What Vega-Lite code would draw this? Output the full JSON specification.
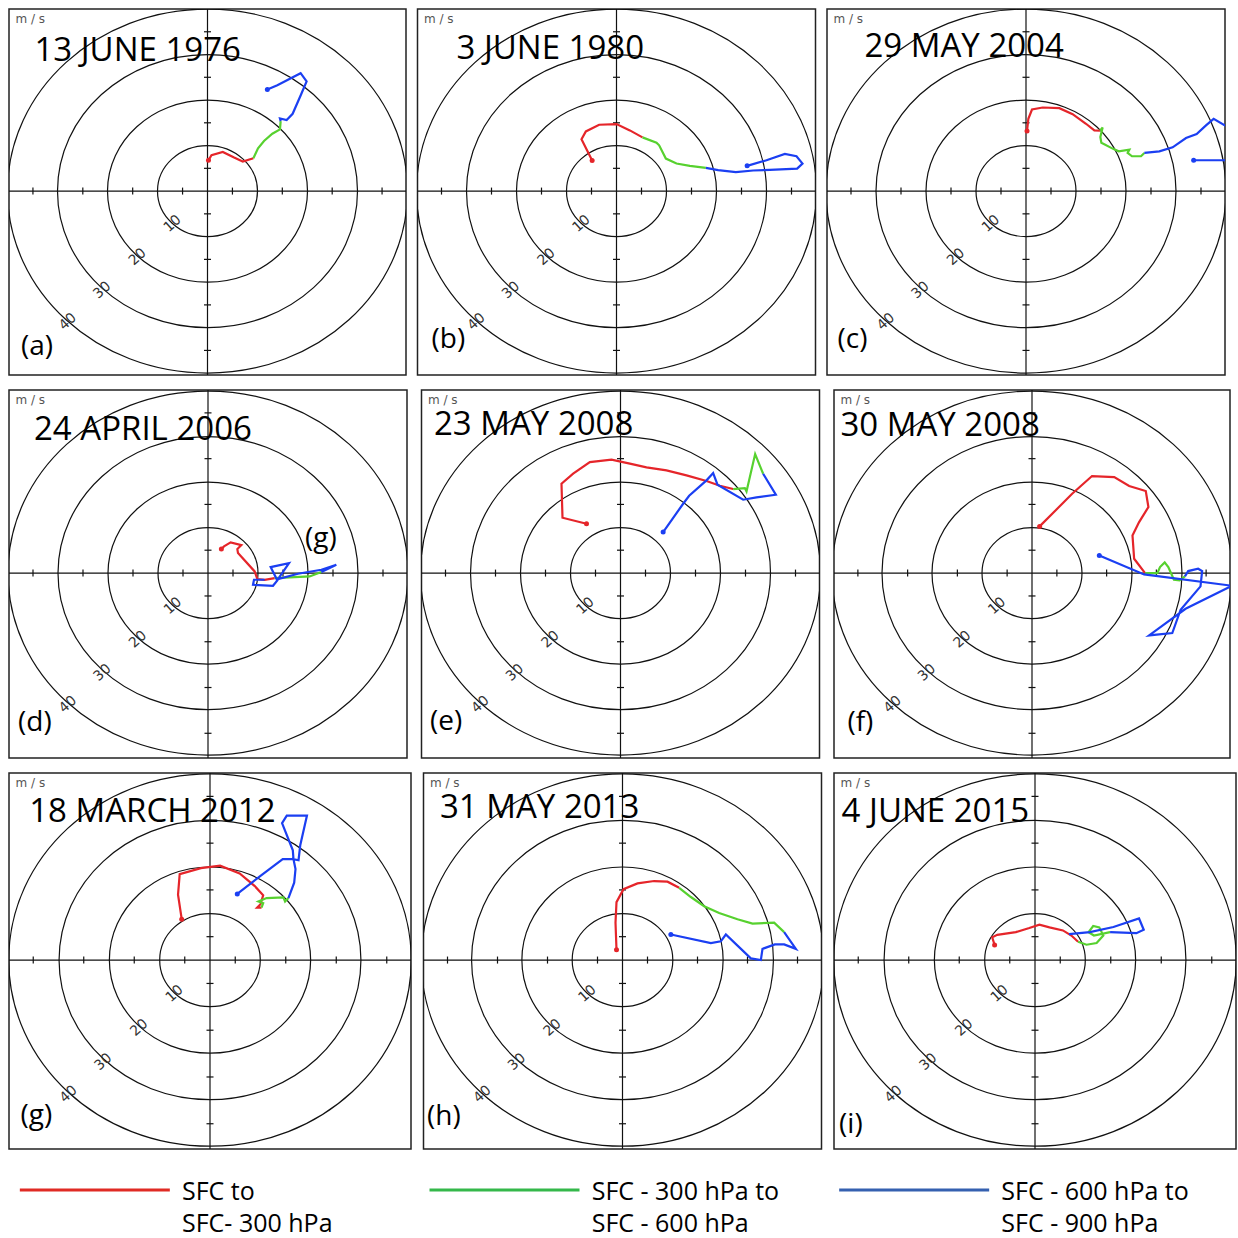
{
"$schema": "https://vega.github.io/schema/vega-lite/v6.json",
"padding": {"left": 8, "top": 8, "right": 0, "bottom": 0},
"background": "white",
"config": {"view": {"stroke": "#222", "strokeWidth": 1.5}},
"datasets": {
"axes": [{"u": -45, "u2": 45, "v": 0, "v2": 0}, {"u": 0, "u2": 0, "v": -45, "v2": 45}],
"rings": [{"u": 0, "v": 0, "r": 10}, {"u": 0, "v": 0, "r": 20}, {"u": 0, "v": 0, "r": 30}, {"u": 0, "v": 0, "r": 40}],
"xticks": [{"u": -35, "v": 0}, {"u": -25, "v": 0}, {"u": -15, "v": 0}, {"u": -5, "v": 0}, {"u": 5, "v": 0}, {"u": 15, "v": 0}, {"u": 25, "v": 0}, {"u": 35, "v": 0}],
"yticks": [{"v": -35, "u": 0}, {"v": -25, "u": 0}, {"v": -15, "u": 0}, {"v": -5, "u": 0}, {"v": 5, "u": 0}, {"v": 15, "u": 0}, {"v": 25, "u": 0}, {"v": 35, "u": 0}],
"ringlabels": [{"u": -7.0, "v": -7.2, "t": "10"}, {"u": -14.0, "v": -14.5, "t": "20"}, {"u": -21.1, "v": -21.8, "t": "30"}, {"u": -28.0, "v": -28.7, "t": "40"}],
"ms": [{"u": -38.5, "v": 37.0, "t": "m / s"}],
"labels": [
{"p": "a", "k": "t", "t": "13 JUNE 1976", "u": -34.7, "v": 28.5},
{"p": "a", "k": "l", "t": "(a)", "u": -37.4, "v": -36.0},
{"p": "b", "k": "t", "t": "3 JUNE 1980", "u": -32.0, "v": 29.0},
{"p": "b", "k": "l", "t": "(b)", "u": -37.0, "v": -34.5},
{"p": "c", "k": "t", "t": "29 MAY 2004", "u": -32.3, "v": 29.4},
{"p": "c", "k": "l", "t": "(c)", "u": -37.7, "v": -34.4},
{"p": "d", "k": "t", "t": "24 APRIL 2006", "u": -34.8, "v": 29.0},
{"p": "d", "k": "l", "t": "(d)", "u": -38.0, "v": -34.6},
{"p": "d", "k": "n", "t": "(g)", "u": 19.4, "v": 5.8},
{"p": "e", "k": "t", "t": "23 MAY 2008", "u": -37.3, "v": 30.2},
{"p": "e", "k": "l", "t": "(e)", "u": -38.1, "v": -34.2},
{"p": "f", "k": "t", "t": "30 MAY 2008", "u": -38.5, "v": 29.9},
{"p": "f", "k": "l", "t": "(f)", "u": -37.1, "v": -34.4},
{"p": "g", "k": "t", "t": "18 MARCH 2012", "u": -35.8, "v": 29.5},
{"p": "g", "k": "l", "t": "(g)", "u": -37.5, "v": -35.0},
{"p": "h", "k": "t", "t": "31 MAY 2013", "u": -36.5, "v": 30.4},
{"p": "h", "k": "l", "t": "(h)", "u": -39.1, "v": -35.3},
{"p": "i", "k": "t", "t": "4 JUNE 2015", "u": -38.3, "v": 29.6},
{"p": "i", "k": "l", "t": "(i)", "u": -38.8, "v": -37.0}
],
"tracks": [
{"p":"a","s":"r","i":0,"u":0.2,"v":6.78},{"p":"a","s":"r","i":1,"u":0.8,"v":7.87},{"p":"a","s":"r","i":2,"u":3.07,"v":8.6},{"p":"a","s":"r","i":3,"u":5.33,"v":7.36},{"p":"a","s":"r","i":4,"u":7.07,"v":6.48},{"p":"a","s":"r","i":5,"u":9.2,"v":7.21},
{"p":"a","s":"g","i":0,"u":9.2,"v":7.21},{"p":"a","s":"g","i":1,"u":10.13,"v":9.4},{"p":"a","s":"g","i":2,"u":11.33,"v":11.0},{"p":"a","s":"g","i":3,"u":13.0,"v":12.6},{"p":"a","s":"g","i":4,"u":14.53,"v":13.55},{"p":"a","s":"g","i":5,"u":14.67,"v":15.37},
{"p":"a","s":"b","i":0,"u":14.67,"v":15.37},{"p":"a","s":"b","i":1,"u":14.53,"v":15.96},{"p":"a","s":"b","i":2,"u":15.87,"v":15.59},{"p":"a","s":"b","i":3,"u":17.07,"v":16.98},{"p":"a","s":"b","i":4,"u":18.67,"v":21.0},{"p":"a","s":"b","i":5,"u":19.87,"v":24.1},{"p":"a","s":"b","i":6,"u":18.67,"v":25.9},{"p":"a","s":"b","i":7,"u":14.0,"v":23.24},{"p":"a","s":"b","i":8,"u":12.0,"v":22.3},
{"p":"b","s":"r","i":0,"u":-4.87,"v":6.7},{"p":"b","s":"r","i":1,"u":-7.0,"v":11.37},{"p":"b","s":"r","i":2,"u":-6.13,"v":13.11},{"p":"b","s":"r","i":3,"u":-3.47,"v":14.57},{"p":"b","s":"r","i":4,"u":0,"v":14.72},{"p":"b","s":"r","i":5,"u":2.67,"v":13.33},{"p":"b","s":"r","i":6,"u":5.2,"v":11.8},
{"p":"b","s":"g","i":0,"u":5.2,"v":11.8},{"p":"b","s":"g","i":1,"u":8.0,"v":10.64},{"p":"b","s":"g","i":2,"u":8.53,"v":10.05},{"p":"b","s":"g","i":3,"u":9.87,"v":7.14},{"p":"b","s":"g","i":4,"u":12.0,"v":6.05},{"p":"b","s":"g","i":5,"u":14.67,"v":5.54},{"p":"b","s":"g","i":6,"u":17.87,"v":5.1},
{"p":"b","s":"b","i":0,"u":17.87,"v":5.1},{"p":"b","s":"b","i":1,"u":20.33,"v":4.59},{"p":"b","s":"b","i":2,"u":23.87,"v":4.15},{"p":"b","s":"b","i":3,"u":27.33,"v":4.52},{"p":"b","s":"b","i":4,"u":30.67,"v":4.66},{"p":"b","s":"b","i":5,"u":36.13,"v":4.95},{"p":"b","s":"b","i":6,"u":37.2,"v":6.05},{"p":"b","s":"b","i":7,"u":36.0,"v":7.65},{"p":"b","s":"b","i":8,"u":33.67,"v":8.16},{"p":"b","s":"b","i":9,"u":30.0,"v":6.78},{"p":"b","s":"b","i":10,"u":26.13,"v":5.54},
{"p":"c","s":"r","i":0,"u":0.2,"v":13.19},{"p":"c","s":"r","i":1,"u":0.47,"v":15.88},{"p":"c","s":"r","i":2,"u":1.2,"v":17.92},{"p":"c","s":"r","i":3,"u":3.33,"v":18.36},{"p":"c","s":"r","i":4,"u":6.67,"v":18.21},{"p":"c","s":"r","i":5,"u":9.33,"v":16.9},{"p":"c","s":"r","i":6,"u":12.0,"v":14.79},{"p":"c","s":"r","i":7,"u":13.67,"v":13.33},{"p":"c","s":"r","i":8,"u":14.8,"v":13.26},
{"p":"c","s":"g","i":0,"u":14.8,"v":13.26},{"p":"c","s":"g","i":1,"u":15.33,"v":13.99},{"p":"c","s":"g","i":2,"u":14.87,"v":11.88},{"p":"c","s":"g","i":3,"u":15.07,"v":10.64},{"p":"c","s":"g","i":4,"u":17.33,"v":9.33},{"p":"c","s":"g","i":5,"u":18.53,"v":8.74},{"p":"c","s":"g","i":6,"u":20.67,"v":9.11},{"p":"c","s":"g","i":7,"u":20.33,"v":8.38},{"p":"c","s":"g","i":8,"u":21.2,"v":7.65},{"p":"c","s":"g","i":9,"u":23.0,"v":7.65},{"p":"c","s":"g","i":10,"u":23.67,"v":8.38},
{"p":"c","s":"b","i":0,"u":23.67,"v":8.38},{"p":"c","s":"b","i":1,"u":26.67,"v":8.74},{"p":"c","s":"b","i":2,"u":29.33,"v":9.62},{"p":"c","s":"b","i":3,"u":32.0,"v":11.66},{"p":"c","s":"b","i":4,"u":34.13,"v":12.53},{"p":"c","s":"b","i":5,"u":36.0,"v":14.43},{"p":"c","s":"b","i":6,"u":37.53,"v":15.88},{"p":"c","s":"b","i":7,"u":40.0,"v":14.28},{"p":"c","s":"b","i":8,"u":43.33,"v":10.78},{"p":"c","s":"b","i":9,"u":43.33,"v":6.78},{"p":"c","s":"b","i":10,"u":33.53,"v":6.78},
{"p":"d","s":"r","i":0,"u":2.67,"v":5.25},{"p":"d","s":"r","i":1,"u":3.2,"v":5.83},{"p":"d","s":"r","i":2,"u":4.53,"v":6.7},{"p":"d","s":"r","i":3,"u":6.67,"v":6.12},{"p":"d","s":"r","i":4,"u":5.87,"v":5.25},{"p":"d","s":"r","i":5,"u":6.0,"v":4.37},{"p":"d","s":"r","i":6,"u":9.33,"v":0.36},{"p":"d","s":"r","i":7,"u":9.87,"v":-1.31},{"p":"d","s":"r","i":8,"u":11.33,"v":-1.46},{"p":"d","s":"r","i":9,"u":13.33,"v":-1.09},
{"p":"d","s":"g","i":0,"u":13.33,"v":-1.09},{"p":"d","s":"g","i":1,"u":17.33,"v":-0.87},{"p":"d","s":"g","i":2,"u":20.33,"v":-0.73},{"p":"d","s":"g","i":3,"u":22.67,"v":0.22},
{"p":"d","s":"b","i":0,"u":22.67,"v":0.22},{"p":"d","s":"b","i":1,"u":25.67,"v":1.82},{"p":"d","s":"b","i":2,"u":22.67,"v":0.73},{"p":"d","s":"b","i":3,"u":18.0,"v":-0.15},{"p":"d","s":"b","i":4,"u":14.0,"v":-1.31},{"p":"d","s":"b","i":5,"u":16.2,"v":2.19},{"p":"d","s":"b","i":6,"u":12.53,"v":1.31},{"p":"d","s":"b","i":7,"u":13.87,"v":-1.6},{"p":"d","s":"b","i":8,"u":13.0,"v":-2.77},{"p":"d","s":"b","i":9,"u":9.0,"v":-2.55},{"p":"d","s":"b","i":10,"u":9.2,"v":-1.46},{"p":"d","s":"b","i":11,"u":11.33,"v":-1.46},
{"p":"e","s":"r","i":0,"u":-6.8,"v":10.78},{"p":"e","s":"r","i":1,"u":-11.6,"v":12.09},{"p":"e","s":"r","i":2,"u":-11.8,"v":19.53},{"p":"e","s":"r","i":3,"u":-9.47,"v":21.71},{"p":"e","s":"r","i":4,"u":-6.13,"v":24.26},{"p":"e","s":"r","i":5,"u":-1.8,"v":24.77},{"p":"e","s":"r","i":6,"u":1.87,"v":23.9},{"p":"e","s":"r","i":7,"u":5.2,"v":23.1},{"p":"e","s":"r","i":8,"u":9.2,"v":22.44},{"p":"e","s":"r","i":9,"u":13.2,"v":21.35},{"p":"e","s":"r","i":10,"u":17.2,"v":20.11},{"p":"e","s":"r","i":11,"u":19.87,"v":19.09},{"p":"e","s":"r","i":12,"u":22.53,"v":18.36},
{"p":"e","s":"g","i":0,"u":22.53,"v":18.36},{"p":"e","s":"g","i":1,"u":24.87,"v":18.58},{"p":"e","s":"g","i":2,"u":25.2,"v":17.85},{"p":"e","s":"g","i":3,"u":26.93,"v":26.01},{"p":"e","s":"g","i":4,"u":28.53,"v":21.71},
{"p":"e","s":"b","i":0,"u":28.53,"v":21.71},{"p":"e","s":"b","i":1,"u":31.07,"v":17.12},{"p":"e","s":"b","i":2,"u":27.2,"v":16.54},{"p":"e","s":"b","i":3,"u":24.53,"v":16.03},{"p":"e","s":"b","i":4,"u":19.4,"v":19.31},{"p":"e","s":"b","i":5,"u":18.53,"v":21.86},{"p":"e","s":"b","i":6,"u":17.2,"v":20.26},{"p":"e","s":"b","i":7,"u":13.73,"v":16.9},{"p":"e","s":"b","i":8,"u":12.53,"v":15.15},{"p":"e","s":"b","i":9,"u":8.53,"v":8.96},
{"p":"f","s":"r","i":0,"u":1.53,"v":10.2},{"p":"f","s":"r","i":1,"u":4.87,"v":13.84},{"p":"f","s":"r","i":2,"u":8.07,"v":17.34},{"p":"f","s":"r","i":3,"u":12.07,"v":21.2},{"p":"f","s":"r","i":4,"u":16.53,"v":20.98},{"p":"f","s":"r","i":5,"u":19.53,"v":19.02},{"p":"f","s":"r","i":6,"u":22.87,"v":17.92},{"p":"f","s":"r","i":7,"u":23.4,"v":14.43},{"p":"f","s":"r","i":8,"u":21.53,"v":11.15},{"p":"f","s":"r","i":9,"u":20.2,"v":8.23},{"p":"f","s":"r","i":10,"u":20.53,"v":3.13},{"p":"f","s":"r","i":11,"u":22.73,"v":0.0},
{"p":"f","s":"g","i":0,"u":22.73,"v":0.0},{"p":"f","s":"g","i":1,"u":25.2,"v":0.0},{"p":"f","s":"g","i":2,"u":25.73,"v":1.31},{"p":"f","s":"g","i":3,"u":26.67,"v":2.33},{"p":"f","s":"g","i":4,"u":27.4,"v":1.31},{"p":"f","s":"g","i":5,"u":28.53,"v":-1.46},{"p":"f","s":"g","i":6,"u":29.67,"v":-1.6},{"p":"f","s":"g","i":7,"u":30.73,"v":-0.73},
{"p":"f","s":"b","i":0,"u":30.73,"v":-0.73},{"p":"f","s":"b","i":1,"u":31.4,"v":0.44},{"p":"f","s":"b","i":2,"u":33.4,"v":0.95},{"p":"f","s":"b","i":3,"u":34.2,"v":0.44},{"p":"f","s":"b","i":4,"u":33.87,"v":-2.91},{"p":"f","s":"b","i":5,"u":29.87,"v":-8.01},{"p":"f","s":"b","i":6,"u":28.2,"v":-13.11},{"p":"f","s":"b","i":7,"u":23.53,"v":-13.62},{"p":"f","s":"b","i":8,"u":30.87,"v":-7.79},{"p":"f","s":"b","i":9,"u":40.2,"v":-2.77},{"p":"f","s":"b","i":10,"u":22.53,"v":-0.29},{"p":"f","s":"b","i":11,"u":13.53,"v":3.86},
{"p":"g","s":"r","i":0,"u":-5.6,"v":8.74},{"p":"g","s":"r","i":1,"u":-6.33,"v":13.99},{"p":"g","s":"r","i":2,"u":-6.0,"v":18.36},{"p":"g","s":"r","i":3,"u":-1.8,"v":19.67},{"p":"g","s":"r","i":4,"u":2.0,"v":20.18},{"p":"g","s":"r","i":5,"u":5.87,"v":18.51},{"p":"g","s":"r","i":6,"u":8.87,"v":15.81},{"p":"g","s":"r","i":7,"u":10.53,"v":13.84},{"p":"g","s":"r","i":8,"u":10.0,"v":11.95},{"p":"g","s":"r","i":9,"u":9.33,"v":11.22},{"p":"g","s":"r","i":10,"u":10.2,"v":11.22},
{"p":"g","s":"g","i":0,"u":10.2,"v":11.22},{"p":"g","s":"g","i":1,"u":10.53,"v":12.17},{"p":"g","s":"g","i":2,"u":9.6,"v":12.53},{"p":"g","s":"g","i":3,"u":11.2,"v":13.26},{"p":"g","s":"g","i":4,"u":14.53,"v":13.41},{"p":"g","s":"g","i":5,"u":14.87,"v":12.53},{"p":"g","s":"g","i":6,"u":15.53,"v":13.26},
{"p":"g","s":"b","i":0,"u":15.53,"v":13.26},{"p":"g","s":"b","i":1,"u":16.67,"v":16.54},{"p":"g","s":"b","i":2,"u":16.93,"v":19.45},{"p":"g","s":"b","i":3,"u":16.53,"v":21.57},{"p":"g","s":"b","i":4,"u":17.53,"v":21.35},{"p":"g","s":"b","i":5,"u":17.87,"v":24.55},{"p":"g","s":"b","i":6,"u":19.2,"v":30.89},{"p":"g","s":"b","i":7,"u":15.2,"v":30.89},{"p":"g","s":"b","i":8,"u":14.27,"v":29.29},{"p":"g","s":"b","i":9,"u":16.4,"v":23.46},{"p":"g","s":"b","i":10,"u":16.53,"v":21.57},{"p":"g","s":"b","i":11,"u":14.4,"v":21.57},{"p":"g","s":"b","i":12,"u":9.87,"v":17.92},{"p":"g","s":"b","i":13,"u":5.4,"v":14.13},
{"p":"h","s":"r","i":0,"u":-1.2,"v":2.19},{"p":"h","s":"r","i":1,"u":-1.4,"v":8.01},{"p":"h","s":"r","i":2,"u":-1.2,"v":12.39},{"p":"h","s":"r","i":3,"u":0.2,"v":15.15},{"p":"h","s":"r","i":4,"u":3.0,"v":16.39},{"p":"h","s":"r","i":5,"u":6.33,"v":16.9},{"p":"h","s":"r","i":6,"u":9.0,"v":16.76},{"p":"h","s":"r","i":7,"u":11.33,"v":15.45},
{"p":"h","s":"g","i":0,"u":11.33,"v":15.45},{"p":"h","s":"g","i":1,"u":13.67,"v":13.48},{"p":"h","s":"g","i":2,"u":16.33,"v":11.51},{"p":"h","s":"g","i":3,"u":19.33,"v":10.05},{"p":"h","s":"g","i":4,"u":23.0,"v":8.74},{"p":"h","s":"g","i":5,"u":26.0,"v":7.8},{"p":"h","s":"g","i":6,"u":30.33,"v":8.01},{"p":"h","s":"g","i":7,"u":32.33,"v":5.97},
{"p":"h","s":"b","i":0,"u":32.33,"v":5.97},{"p":"h","s":"b","i":1,"u":34.67,"v":2.4},{"p":"h","s":"b","i":2,"u":32.33,"v":3.35},{"p":"h","s":"b","i":3,"u":30.47,"v":3.35},{"p":"h","s":"b","i":4,"u":28.0,"v":2.4},{"p":"h","s":"b","i":5,"u":27.67,"v":0.0},{"p":"h","s":"b","i":6,"u":25.67,"v":0.36},{"p":"h","s":"b","i":7,"u":20.67,"v":5.46},{"p":"h","s":"b","i":8,"u":19.67,"v":4.01},{"p":"h","s":"b","i":9,"u":17.67,"v":3.64},{"p":"h","s":"b","i":10,"u":9.67,"v":5.46},
{"p":"i","s":"r","i":0,"u":-8.0,"v":3.21},{"p":"i","s":"r","i":1,"u":-8.47,"v":4.88},{"p":"i","s":"r","i":2,"u":-7.47,"v":5.39},{"p":"i","s":"r","i":3,"u":-3.8,"v":5.97},{"p":"i","s":"r","i":4,"u":-1.13,"v":6.85},{"p":"i","s":"r","i":5,"u":0.87,"v":7.58},{"p":"i","s":"r","i":6,"u":2.87,"v":6.99},{"p":"i","s":"r","i":7,"u":5.53,"v":6.34},{"p":"i","s":"r","i":8,"u":7.2,"v":5.25},{"p":"i","s":"r","i":9,"u":8.53,"v":3.93},
{"p":"i","s":"g","i":0,"u":8.53,"v":3.93},{"p":"i","s":"g","i":1,"u":10.2,"v":3.28},{"p":"i","s":"g","i":2,"u":12.2,"v":3.64},{"p":"i","s":"g","i":3,"u":13.53,"v":5.25},{"p":"i","s":"g","i":4,"u":12.73,"v":6.99},{"p":"i","s":"g","i":5,"u":11.53,"v":7.29},{"p":"i","s":"g","i":6,"u":10.6,"v":5.97},{"p":"i","s":"g","i":7,"u":11.67,"v":5.25},{"p":"i","s":"g","i":8,"u":14.87,"v":5.97},
{"p":"i","s":"b","i":0,"u":14.87,"v":5.97},{"p":"i","s":"b","i":1,"u":20.07,"v":5.76},{"p":"i","s":"b","i":2,"u":21.53,"v":6.48},{"p":"i","s":"b","i":3,"u":20.6,"v":8.89},{"p":"i","s":"b","i":4,"u":15.53,"v":7.07},{"p":"i","s":"b","i":5,"u":10.87,"v":5.97},{"p":"i","s":"b","i":6,"u":6.73,"v":5.54}
],
"legend": [{"k": "r", "t": "SFC  to|SFC- 300 hPa"}, {"k": "g", "t": "SFC - 300 hPa to|SFC - 600 hPa"}, {"k": "b", "t": "SFC - 600 hPa to|SFC - 900 hPa"}]
},
"spacing": 13,
"resolve": {"scale": {"color": "independent", "size": "independent"}},
"vconcat": [
{"spacing": 9.5, "hconcat": [
{"width": 397, "height": 366,
 "encoding": {"x": {"field": "u", "type": "quantitative", "scale": {"domain": [-39.8, 39.8], "nice": false, "zero": false}, "axis": null}, "y": {"field": "v", "type": "quantitative", "scale": {"domain": [-40.4, 40.0], "nice": false, "zero": false}, "axis": null}},
 "layer": [
  {"data": {"name": "axes"}, "mark": {"type": "rule", "color": "#111", "strokeWidth": 1.2, "clip": true}, "encoding": {"x2": {"field": "u2"}, "y2": {"field": "v2"}}},
  {"data": {"name": "rings"}, "mark": {"type": "point", "shape": "M1,0C1,0.5026 0.5523,0.91 0,0.91C-0.5523,0.91 -1,0.5026 -1,0C-1,-0.5026 -0.5523,-0.91 0,-0.91C0.5523,-0.91 1,-0.5026 1,0Z", "filled": false, "stroke": "#111", "strokeWidth": 1.2, "opacity": 1, "clip": true}, "encoding": {"size": {"field": "r", "type": "quantitative", "scale": {"type": "pow", "exponent": 2, "domain": [0, 40], "range": [0, 160000]}, "legend": null}}},
  {"data": {"name": "xticks"}, "mark": {"type": "tick", "orient": "vertical", "size": 7, "thickness": 1.2, "color": "#111", "opacity": 1}},
  {"data": {"name": "yticks"}, "mark": {"type": "tick", "orient": "horizontal", "size": 7, "thickness": 1.2, "color": "#111", "opacity": 1}},
  {"data": {"name": "ringlabels"}, "mark": {"type": "text", "angle": 318, "font": "DejaVu Sans", "fontSize": 14, "color": "#333"}, "encoding": {"text": {"field": "t"}}},
  {"data": {"name": "ms"}, "mark": {"type": "text", "align": "left", "baseline": "alphabetic", "font": "DejaVu Sans", "fontSize": 12, "color": "#555"}, "encoding": {"text": {"field": "t"}}},
  {"data": {"name": "tracks"}, "transform": [{"filter": "datum.p == 'a'"}], "mark": {"type": "line", "strokeWidth": 2.2, "clip": true}, "encoding": {"color": {"field": "s", "type": "nominal", "scale": {"domain": ["r", "g", "b"], "range": ["#e5252a", "#57d12f", "#1b3ff2"]}, "legend": null}, "order": {"field": "i", "type": "quantitative"}}},
  {"data": {"name": "tracks"}, "transform": [{"filter": "datum.p == 'a'"}, {"joinaggregate": [{"op": "max", "field": "i", "as": "mi"}], "groupby": ["s"]}, {"filter": "(datum.s == 'r' && datum.i == 0) || (datum.s == 'b' && datum.i == datum.mi)"}], "mark": {"type": "point", "filled": true, "size": 25, "opacity": 1, "clip": true}, "encoding": {"color": {"field": "s", "type": "nominal", "scale": {"domain": ["r", "g", "b"], "range": ["#e5252a", "#57d12f", "#1b3ff2"]}, "legend": null}}},
  {"data": {"name": "labels"}, "transform": [{"filter": "datum.p == 'a' && datum.k == 't'"}], "mark": {"type": "text", "align": "left", "baseline": "alphabetic", "font": "Open Sans", "fontSize": 33, "color": "#000"}, "encoding": {"text": {"field": "t"}}},
  {"data": {"name": "labels"}, "transform": [{"filter": "datum.p == 'a' && datum.k != 't'"}], "mark": {"type": "text", "align": "left", "baseline": "alphabetic", "font": "Open Sans", "fontSize": 28, "color": "#000"}, "encoding": {"text": {"field": "t"}}}
 ]},
{"width": 398, "height": 366,
 "encoding": {"x": {"field": "u", "type": "quantitative", "scale": {"domain": [-39.8, 39.8], "nice": false, "zero": false}, "axis": null}, "y": {"field": "v", "type": "quantitative", "scale": {"domain": [-40.4, 40.0], "nice": false, "zero": false}, "axis": null}},
 "layer": [
  {"data": {"name": "axes"}, "mark": {"type": "rule", "color": "#111", "strokeWidth": 1.2, "clip": true}, "encoding": {"x2": {"field": "u2"}, "y2": {"field": "v2"}}},
  {"data": {"name": "rings"}, "mark": {"type": "point", "shape": "M1,0C1,0.5026 0.5523,0.91 0,0.91C-0.5523,0.91 -1,0.5026 -1,0C-1,-0.5026 -0.5523,-0.91 0,-0.91C0.5523,-0.91 1,-0.5026 1,0Z", "filled": false, "stroke": "#111", "strokeWidth": 1.2, "opacity": 1, "clip": true}, "encoding": {"size": {"field": "r", "type": "quantitative", "scale": {"type": "pow", "exponent": 2, "domain": [0, 40], "range": [0, 160000]}, "legend": null}}},
  {"data": {"name": "xticks"}, "mark": {"type": "tick", "orient": "vertical", "size": 7, "thickness": 1.2, "color": "#111", "opacity": 1}},
  {"data": {"name": "yticks"}, "mark": {"type": "tick", "orient": "horizontal", "size": 7, "thickness": 1.2, "color": "#111", "opacity": 1}},
  {"data": {"name": "ringlabels"}, "mark": {"type": "text", "angle": 318, "font": "DejaVu Sans", "fontSize": 14, "color": "#333"}, "encoding": {"text": {"field": "t"}}},
  {"data": {"name": "ms"}, "mark": {"type": "text", "align": "left", "baseline": "alphabetic", "font": "DejaVu Sans", "fontSize": 12, "color": "#555"}, "encoding": {"text": {"field": "t"}}},
  {"data": {"name": "tracks"}, "transform": [{"filter": "datum.p == 'b'"}], "mark": {"type": "line", "strokeWidth": 2.2, "clip": true}, "encoding": {"color": {"field": "s", "type": "nominal", "scale": {"domain": ["r", "g", "b"], "range": ["#e5252a", "#57d12f", "#1b3ff2"]}, "legend": null}, "order": {"field": "i", "type": "quantitative"}}},
  {"data": {"name": "tracks"}, "transform": [{"filter": "datum.p == 'b'"}, {"joinaggregate": [{"op": "max", "field": "i", "as": "mi"}], "groupby": ["s"]}, {"filter": "(datum.s == 'r' && datum.i == 0) || (datum.s == 'b' && datum.i == datum.mi)"}], "mark": {"type": "point", "filled": true, "size": 25, "opacity": 1, "clip": true}, "encoding": {"color": {"field": "s", "type": "nominal", "scale": {"domain": ["r", "g", "b"], "range": ["#e5252a", "#57d12f", "#1b3ff2"]}, "legend": null}}},
  {"data": {"name": "labels"}, "transform": [{"filter": "datum.p == 'b' && datum.k == 't'"}], "mark": {"type": "text", "align": "left", "baseline": "alphabetic", "font": "Open Sans", "fontSize": 33, "color": "#000"}, "encoding": {"text": {"field": "t"}}},
  {"data": {"name": "labels"}, "transform": [{"filter": "datum.p == 'b' && datum.k != 't'"}], "mark": {"type": "text", "align": "left", "baseline": "alphabetic", "font": "Open Sans", "fontSize": 28, "color": "#000"}, "encoding": {"text": {"field": "t"}}}
 ]},
{"width": 398, "height": 366,
 "encoding": {"x": {"field": "u", "type": "quantitative", "scale": {"domain": [-39.8, 39.8], "nice": false, "zero": false}, "axis": null}, "y": {"field": "v", "type": "quantitative", "scale": {"domain": [-40.4, 40.0], "nice": false, "zero": false}, "axis": null}},
 "layer": [
  {"data": {"name": "axes"}, "mark": {"type": "rule", "color": "#111", "strokeWidth": 1.2, "clip": true}, "encoding": {"x2": {"field": "u2"}, "y2": {"field": "v2"}}},
  {"data": {"name": "rings"}, "mark": {"type": "point", "shape": "M1,0C1,0.5026 0.5523,0.91 0,0.91C-0.5523,0.91 -1,0.5026 -1,0C-1,-0.5026 -0.5523,-0.91 0,-0.91C0.5523,-0.91 1,-0.5026 1,0Z", "filled": false, "stroke": "#111", "strokeWidth": 1.2, "opacity": 1, "clip": true}, "encoding": {"size": {"field": "r", "type": "quantitative", "scale": {"type": "pow", "exponent": 2, "domain": [0, 40], "range": [0, 160000]}, "legend": null}}},
  {"data": {"name": "xticks"}, "mark": {"type": "tick", "orient": "vertical", "size": 7, "thickness": 1.2, "color": "#111", "opacity": 1}},
  {"data": {"name": "yticks"}, "mark": {"type": "tick", "orient": "horizontal", "size": 7, "thickness": 1.2, "color": "#111", "opacity": 1}},
  {"data": {"name": "ringlabels"}, "mark": {"type": "text", "angle": 318, "font": "DejaVu Sans", "fontSize": 14, "color": "#333"}, "encoding": {"text": {"field": "t"}}},
  {"data": {"name": "ms"}, "mark": {"type": "text", "align": "left", "baseline": "alphabetic", "font": "DejaVu Sans", "fontSize": 12, "color": "#555"}, "encoding": {"text": {"field": "t"}}},
  {"data": {"name": "tracks"}, "transform": [{"filter": "datum.p == 'c'"}], "mark": {"type": "line", "strokeWidth": 2.2, "clip": true}, "encoding": {"color": {"field": "s", "type": "nominal", "scale": {"domain": ["r", "g", "b"], "range": ["#e5252a", "#57d12f", "#1b3ff2"]}, "legend": null}, "order": {"field": "i", "type": "quantitative"}}},
  {"data": {"name": "tracks"}, "transform": [{"filter": "datum.p == 'c'"}, {"joinaggregate": [{"op": "max", "field": "i", "as": "mi"}], "groupby": ["s"]}, {"filter": "(datum.s == 'r' && datum.i == 0) || (datum.s == 'b' && datum.i == datum.mi)"}], "mark": {"type": "point", "filled": true, "size": 25, "opacity": 1, "clip": true}, "encoding": {"color": {"field": "s", "type": "nominal", "scale": {"domain": ["r", "g", "b"], "range": ["#e5252a", "#57d12f", "#1b3ff2"]}, "legend": null}}},
  {"data": {"name": "labels"}, "transform": [{"filter": "datum.p == 'c' && datum.k == 't'"}], "mark": {"type": "text", "align": "left", "baseline": "alphabetic", "font": "Open Sans", "fontSize": 33, "color": "#000"}, "encoding": {"text": {"field": "t"}}},
  {"data": {"name": "labels"}, "transform": [{"filter": "datum.p == 'c' && datum.k != 't'"}], "mark": {"type": "text", "align": "left", "baseline": "alphabetic", "font": "Open Sans", "fontSize": 28, "color": "#000"}, "encoding": {"text": {"field": "t"}}}
 ]}
]},
{"spacing": 12.5, "hconcat": [
{"width": 398, "height": 368,
 "encoding": {"x": {"field": "u", "type": "quantitative", "scale": {"domain": [-39.8, 39.8], "nice": false, "zero": false}, "axis": null}, "y": {"field": "v", "type": "quantitative", "scale": {"domain": [-40.4, 40.0], "nice": false, "zero": false}, "axis": null}},
 "layer": [
  {"data": {"name": "axes"}, "mark": {"type": "rule", "color": "#111", "strokeWidth": 1.2, "clip": true}, "encoding": {"x2": {"field": "u2"}, "y2": {"field": "v2"}}},
  {"data": {"name": "rings"}, "mark": {"type": "point", "shape": "M1,0C1,0.5026 0.5523,0.91 0,0.91C-0.5523,0.91 -1,0.5026 -1,0C-1,-0.5026 -0.5523,-0.91 0,-0.91C0.5523,-0.91 1,-0.5026 1,0Z", "filled": false, "stroke": "#111", "strokeWidth": 1.2, "opacity": 1, "clip": true}, "encoding": {"size": {"field": "r", "type": "quantitative", "scale": {"type": "pow", "exponent": 2, "domain": [0, 40], "range": [0, 160000]}, "legend": null}}},
  {"data": {"name": "xticks"}, "mark": {"type": "tick", "orient": "vertical", "size": 7, "thickness": 1.2, "color": "#111", "opacity": 1}},
  {"data": {"name": "yticks"}, "mark": {"type": "tick", "orient": "horizontal", "size": 7, "thickness": 1.2, "color": "#111", "opacity": 1}},
  {"data": {"name": "ringlabels"}, "mark": {"type": "text", "angle": 318, "font": "DejaVu Sans", "fontSize": 14, "color": "#333"}, "encoding": {"text": {"field": "t"}}},
  {"data": {"name": "ms"}, "mark": {"type": "text", "align": "left", "baseline": "alphabetic", "font": "DejaVu Sans", "fontSize": 12, "color": "#555"}, "encoding": {"text": {"field": "t"}}},
  {"data": {"name": "tracks"}, "transform": [{"filter": "datum.p == 'd'"}], "mark": {"type": "line", "strokeWidth": 2.2, "clip": true}, "encoding": {"color": {"field": "s", "type": "nominal", "scale": {"domain": ["r", "g", "b"], "range": ["#e5252a", "#57d12f", "#1b3ff2"]}, "legend": null}, "order": {"field": "i", "type": "quantitative"}}},
  {"data": {"name": "tracks"}, "transform": [{"filter": "datum.p == 'd'"}, {"filter": "datum.s == 'r' && datum.i == 0"}], "mark": {"type": "point", "filled": true, "size": 25, "opacity": 1, "clip": true}, "encoding": {"color": {"field": "s", "type": "nominal", "scale": {"domain": ["r", "g", "b"], "range": ["#e5252a", "#57d12f", "#1b3ff2"]}, "legend": null}}},
  {"data": {"name": "labels"}, "transform": [{"filter": "datum.p == 'd' && datum.k == 't'"}], "mark": {"type": "text", "align": "left", "baseline": "alphabetic", "font": "Open Sans", "fontSize": 33, "color": "#000"}, "encoding": {"text": {"field": "t"}}},
  {"data": {"name": "labels"}, "transform": [{"filter": "datum.p == 'd' && datum.k != 't'"}], "mark": {"type": "text", "align": "left", "baseline": "alphabetic", "font": "Open Sans", "fontSize": 28, "color": "#000"}, "encoding": {"text": {"field": "t"}}}
 ]},
{"width": 398, "height": 368,
 "encoding": {"x": {"field": "u", "type": "quantitative", "scale": {"domain": [-39.8, 39.8], "nice": false, "zero": false}, "axis": null}, "y": {"field": "v", "type": "quantitative", "scale": {"domain": [-40.4, 40.0], "nice": false, "zero": false}, "axis": null}},
 "layer": [
  {"data": {"name": "axes"}, "mark": {"type": "rule", "color": "#111", "strokeWidth": 1.2, "clip": true}, "encoding": {"x2": {"field": "u2"}, "y2": {"field": "v2"}}},
  {"data": {"name": "rings"}, "mark": {"type": "point", "shape": "M1,0C1,0.5026 0.5523,0.91 0,0.91C-0.5523,0.91 -1,0.5026 -1,0C-1,-0.5026 -0.5523,-0.91 0,-0.91C0.5523,-0.91 1,-0.5026 1,0Z", "filled": false, "stroke": "#111", "strokeWidth": 1.2, "opacity": 1, "clip": true}, "encoding": {"size": {"field": "r", "type": "quantitative", "scale": {"type": "pow", "exponent": 2, "domain": [0, 40], "range": [0, 160000]}, "legend": null}}},
  {"data": {"name": "xticks"}, "mark": {"type": "tick", "orient": "vertical", "size": 7, "thickness": 1.2, "color": "#111", "opacity": 1}},
  {"data": {"name": "yticks"}, "mark": {"type": "tick", "orient": "horizontal", "size": 7, "thickness": 1.2, "color": "#111", "opacity": 1}},
  {"data": {"name": "ringlabels"}, "mark": {"type": "text", "angle": 318, "font": "DejaVu Sans", "fontSize": 14, "color": "#333"}, "encoding": {"text": {"field": "t"}}},
  {"data": {"name": "ms"}, "mark": {"type": "text", "align": "left", "baseline": "alphabetic", "font": "DejaVu Sans", "fontSize": 12, "color": "#555"}, "encoding": {"text": {"field": "t"}}},
  {"data": {"name": "tracks"}, "transform": [{"filter": "datum.p == 'e'"}], "mark": {"type": "line", "strokeWidth": 2.2, "clip": true}, "encoding": {"color": {"field": "s", "type": "nominal", "scale": {"domain": ["r", "g", "b"], "range": ["#e5252a", "#57d12f", "#1b3ff2"]}, "legend": null}, "order": {"field": "i", "type": "quantitative"}}},
  {"data": {"name": "tracks"}, "transform": [{"filter": "datum.p == 'e'"}, {"joinaggregate": [{"op": "max", "field": "i", "as": "mi"}], "groupby": ["s"]}, {"filter": "(datum.s == 'r' && datum.i == 0) || (datum.s == 'b' && datum.i == datum.mi)"}], "mark": {"type": "point", "filled": true, "size": 25, "opacity": 1, "clip": true}, "encoding": {"color": {"field": "s", "type": "nominal", "scale": {"domain": ["r", "g", "b"], "range": ["#e5252a", "#57d12f", "#1b3ff2"]}, "legend": null}}},
  {"data": {"name": "labels"}, "transform": [{"filter": "datum.p == 'e' && datum.k == 't'"}], "mark": {"type": "text", "align": "left", "baseline": "alphabetic", "font": "Open Sans", "fontSize": 33, "color": "#000"}, "encoding": {"text": {"field": "t"}}},
  {"data": {"name": "labels"}, "transform": [{"filter": "datum.p == 'e' && datum.k != 't'"}], "mark": {"type": "text", "align": "left", "baseline": "alphabetic", "font": "Open Sans", "fontSize": 28, "color": "#000"}, "encoding": {"text": {"field": "t"}}}
 ]},
{"width": 396, "height": 368,
 "encoding": {"x": {"field": "u", "type": "quantitative", "scale": {"domain": [-39.8, 39.8], "nice": false, "zero": false}, "axis": null}, "y": {"field": "v", "type": "quantitative", "scale": {"domain": [-40.4, 40.0], "nice": false, "zero": false}, "axis": null}},
 "layer": [
  {"data": {"name": "axes"}, "mark": {"type": "rule", "color": "#111", "strokeWidth": 1.2, "clip": true}, "encoding": {"x2": {"field": "u2"}, "y2": {"field": "v2"}}},
  {"data": {"name": "rings"}, "mark": {"type": "point", "shape": "M1,0C1,0.5026 0.5523,0.91 0,0.91C-0.5523,0.91 -1,0.5026 -1,0C-1,-0.5026 -0.5523,-0.91 0,-0.91C0.5523,-0.91 1,-0.5026 1,0Z", "filled": false, "stroke": "#111", "strokeWidth": 1.2, "opacity": 1, "clip": true}, "encoding": {"size": {"field": "r", "type": "quantitative", "scale": {"type": "pow", "exponent": 2, "domain": [0, 40], "range": [0, 160000]}, "legend": null}}},
  {"data": {"name": "xticks"}, "mark": {"type": "tick", "orient": "vertical", "size": 7, "thickness": 1.2, "color": "#111", "opacity": 1}},
  {"data": {"name": "yticks"}, "mark": {"type": "tick", "orient": "horizontal", "size": 7, "thickness": 1.2, "color": "#111", "opacity": 1}},
  {"data": {"name": "ringlabels"}, "mark": {"type": "text", "angle": 318, "font": "DejaVu Sans", "fontSize": 14, "color": "#333"}, "encoding": {"text": {"field": "t"}}},
  {"data": {"name": "ms"}, "mark": {"type": "text", "align": "left", "baseline": "alphabetic", "font": "DejaVu Sans", "fontSize": 12, "color": "#555"}, "encoding": {"text": {"field": "t"}}},
  {"data": {"name": "tracks"}, "transform": [{"filter": "datum.p == 'f'"}], "mark": {"type": "line", "strokeWidth": 2.2, "clip": true}, "encoding": {"color": {"field": "s", "type": "nominal", "scale": {"domain": ["r", "g", "b"], "range": ["#e5252a", "#57d12f", "#1b3ff2"]}, "legend": null}, "order": {"field": "i", "type": "quantitative"}}},
  {"data": {"name": "tracks"}, "transform": [{"filter": "datum.p == 'f'"}, {"joinaggregate": [{"op": "max", "field": "i", "as": "mi"}], "groupby": ["s"]}, {"filter": "(datum.s == 'r' && datum.i == 0) || (datum.s == 'b' && datum.i == datum.mi)"}], "mark": {"type": "point", "filled": true, "size": 25, "opacity": 1, "clip": true}, "encoding": {"color": {"field": "s", "type": "nominal", "scale": {"domain": ["r", "g", "b"], "range": ["#e5252a", "#57d12f", "#1b3ff2"]}, "legend": null}}},
  {"data": {"name": "labels"}, "transform": [{"filter": "datum.p == 'f' && datum.k == 't'"}], "mark": {"type": "text", "align": "left", "baseline": "alphabetic", "font": "Open Sans", "fontSize": 33, "color": "#000"}, "encoding": {"text": {"field": "t"}}},
  {"data": {"name": "labels"}, "transform": [{"filter": "datum.p == 'f' && datum.k != 't'"}], "mark": {"type": "text", "align": "left", "baseline": "alphabetic", "font": "Open Sans", "fontSize": 28, "color": "#000"}, "encoding": {"text": {"field": "t"}}}
 ]}
]},
{"spacing": 10.5, "hconcat": [
{"width": 402, "height": 376,
 "encoding": {"x": {"field": "u", "type": "quantitative", "scale": {"domain": [-39.8, 39.8], "nice": false, "zero": false}, "axis": null}, "y": {"field": "v", "type": "quantitative", "scale": {"domain": [-40.4, 40.0], "nice": false, "zero": false}, "axis": null}},
 "layer": [
  {"data": {"name": "axes"}, "mark": {"type": "rule", "color": "#111", "strokeWidth": 1.2, "clip": true}, "encoding": {"x2": {"field": "u2"}, "y2": {"field": "v2"}}},
  {"data": {"name": "rings"}, "mark": {"type": "point", "shape": "M1,0C1,0.5109 0.5523,0.925 0,0.925C-0.5523,0.925 -1,0.5109 -1,0C-1,-0.5109 -0.5523,-0.925 0,-0.925C0.5523,-0.925 1,-0.5109 1,0Z", "filled": false, "stroke": "#111", "strokeWidth": 1.2, "opacity": 1, "clip": true}, "encoding": {"size": {"field": "r", "type": "quantitative", "scale": {"type": "pow", "exponent": 2, "domain": [0, 40], "range": [0, 162000]}, "legend": null}}},
  {"data": {"name": "xticks"}, "mark": {"type": "tick", "orient": "vertical", "size": 7, "thickness": 1.2, "color": "#111", "opacity": 1}},
  {"data": {"name": "yticks"}, "mark": {"type": "tick", "orient": "horizontal", "size": 7, "thickness": 1.2, "color": "#111", "opacity": 1}},
  {"data": {"name": "ringlabels"}, "mark": {"type": "text", "angle": 318, "font": "DejaVu Sans", "fontSize": 14, "color": "#333"}, "encoding": {"text": {"field": "t"}}},
  {"data": {"name": "ms"}, "mark": {"type": "text", "align": "left", "baseline": "alphabetic", "font": "DejaVu Sans", "fontSize": 12, "color": "#555"}, "encoding": {"text": {"field": "t"}}},
  {"data": {"name": "tracks"}, "transform": [{"filter": "datum.p == 'g'"}], "mark": {"type": "line", "strokeWidth": 2.2, "clip": true}, "encoding": {"color": {"field": "s", "type": "nominal", "scale": {"domain": ["r", "g", "b"], "range": ["#e5252a", "#57d12f", "#1b3ff2"]}, "legend": null}, "order": {"field": "i", "type": "quantitative"}}},
  {"data": {"name": "tracks"}, "transform": [{"filter": "datum.p == 'g'"}, {"joinaggregate": [{"op": "max", "field": "i", "as": "mi"}], "groupby": ["s"]}, {"filter": "(datum.s == 'r' && datum.i == 0) || (datum.s == 'b' && datum.i == datum.mi)"}], "mark": {"type": "point", "filled": true, "size": 25, "opacity": 1, "clip": true}, "encoding": {"color": {"field": "s", "type": "nominal", "scale": {"domain": ["r", "g", "b"], "range": ["#e5252a", "#57d12f", "#1b3ff2"]}, "legend": null}}},
  {"data": {"name": "labels"}, "transform": [{"filter": "datum.p == 'g' && datum.k == 't'"}], "mark": {"type": "text", "align": "left", "baseline": "alphabetic", "font": "Open Sans", "fontSize": 33, "color": "#000"}, "encoding": {"text": {"field": "t"}}},
  {"data": {"name": "labels"}, "transform": [{"filter": "datum.p == 'g' && datum.k != 't'"}], "mark": {"type": "text", "align": "left", "baseline": "alphabetic", "font": "Open Sans", "fontSize": 28, "color": "#000"}, "encoding": {"text": {"field": "t"}}}
 ]},
{"width": 398, "height": 376,
 "encoding": {"x": {"field": "u", "type": "quantitative", "scale": {"domain": [-39.8, 39.8], "nice": false, "zero": false}, "axis": null}, "y": {"field": "v", "type": "quantitative", "scale": {"domain": [-40.4, 40.0], "nice": false, "zero": false}, "axis": null}},
 "layer": [
  {"data": {"name": "axes"}, "mark": {"type": "rule", "color": "#111", "strokeWidth": 1.2, "clip": true}, "encoding": {"x2": {"field": "u2"}, "y2": {"field": "v2"}}},
  {"data": {"name": "rings"}, "mark": {"type": "point", "shape": "M1,0C1,0.5109 0.5523,0.925 0,0.925C-0.5523,0.925 -1,0.5109 -1,0C-1,-0.5109 -0.5523,-0.925 0,-0.925C0.5523,-0.925 1,-0.5109 1,0Z", "filled": false, "stroke": "#111", "strokeWidth": 1.2, "opacity": 1, "clip": true}, "encoding": {"size": {"field": "r", "type": "quantitative", "scale": {"type": "pow", "exponent": 2, "domain": [0, 40], "range": [0, 162000]}, "legend": null}}},
  {"data": {"name": "xticks"}, "mark": {"type": "tick", "orient": "vertical", "size": 7, "thickness": 1.2, "color": "#111", "opacity": 1}},
  {"data": {"name": "yticks"}, "mark": {"type": "tick", "orient": "horizontal", "size": 7, "thickness": 1.2, "color": "#111", "opacity": 1}},
  {"data": {"name": "ringlabels"}, "mark": {"type": "text", "angle": 318, "font": "DejaVu Sans", "fontSize": 14, "color": "#333"}, "encoding": {"text": {"field": "t"}}},
  {"data": {"name": "ms"}, "mark": {"type": "text", "align": "left", "baseline": "alphabetic", "font": "DejaVu Sans", "fontSize": 12, "color": "#555"}, "encoding": {"text": {"field": "t"}}},
  {"data": {"name": "tracks"}, "transform": [{"filter": "datum.p == 'h'"}], "mark": {"type": "line", "strokeWidth": 2.2, "clip": true}, "encoding": {"color": {"field": "s", "type": "nominal", "scale": {"domain": ["r", "g", "b"], "range": ["#e5252a", "#57d12f", "#1b3ff2"]}, "legend": null}, "order": {"field": "i", "type": "quantitative"}}},
  {"data": {"name": "tracks"}, "transform": [{"filter": "datum.p == 'h'"}, {"joinaggregate": [{"op": "max", "field": "i", "as": "mi"}], "groupby": ["s"]}, {"filter": "(datum.s == 'r' && datum.i == 0) || (datum.s == 'b' && datum.i == datum.mi)"}], "mark": {"type": "point", "filled": true, "size": 25, "opacity": 1, "clip": true}, "encoding": {"color": {"field": "s", "type": "nominal", "scale": {"domain": ["r", "g", "b"], "range": ["#e5252a", "#57d12f", "#1b3ff2"]}, "legend": null}}},
  {"data": {"name": "labels"}, "transform": [{"filter": "datum.p == 'h' && datum.k == 't'"}], "mark": {"type": "text", "align": "left", "baseline": "alphabetic", "font": "Open Sans", "fontSize": 33, "color": "#000"}, "encoding": {"text": {"field": "t"}}},
  {"data": {"name": "labels"}, "transform": [{"filter": "datum.p == 'h' && datum.k != 't'"}], "mark": {"type": "text", "align": "left", "baseline": "alphabetic", "font": "Open Sans", "fontSize": 28, "color": "#000"}, "encoding": {"text": {"field": "t"}}}
 ]},
{"width": 402, "height": 376,
 "encoding": {"x": {"field": "u", "type": "quantitative", "scale": {"domain": [-39.8, 39.8], "nice": false, "zero": false}, "axis": null}, "y": {"field": "v", "type": "quantitative", "scale": {"domain": [-40.4, 40.0], "nice": false, "zero": false}, "axis": null}},
 "layer": [
  {"data": {"name": "axes"}, "mark": {"type": "rule", "color": "#111", "strokeWidth": 1.2, "clip": true}, "encoding": {"x2": {"field": "u2"}, "y2": {"field": "v2"}}},
  {"data": {"name": "rings"}, "mark": {"type": "point", "shape": "M1,0C1,0.5109 0.5523,0.925 0,0.925C-0.5523,0.925 -1,0.5109 -1,0C-1,-0.5109 -0.5523,-0.925 0,-0.925C0.5523,-0.925 1,-0.5109 1,0Z", "filled": false, "stroke": "#111", "strokeWidth": 1.2, "opacity": 1, "clip": true}, "encoding": {"size": {"field": "r", "type": "quantitative", "scale": {"type": "pow", "exponent": 2, "domain": [0, 40], "range": [0, 162000]}, "legend": null}}},
  {"data": {"name": "xticks"}, "mark": {"type": "tick", "orient": "vertical", "size": 7, "thickness": 1.2, "color": "#111", "opacity": 1}},
  {"data": {"name": "yticks"}, "mark": {"type": "tick", "orient": "horizontal", "size": 7, "thickness": 1.2, "color": "#111", "opacity": 1}},
  {"data": {"name": "ringlabels"}, "mark": {"type": "text", "angle": 318, "font": "DejaVu Sans", "fontSize": 14, "color": "#333"}, "encoding": {"text": {"field": "t"}}},
  {"data": {"name": "ms"}, "mark": {"type": "text", "align": "left", "baseline": "alphabetic", "font": "DejaVu Sans", "fontSize": 12, "color": "#555"}, "encoding": {"text": {"field": "t"}}},
  {"data": {"name": "tracks"}, "transform": [{"filter": "datum.p == 'i'"}], "mark": {"type": "line", "strokeWidth": 2.2, "clip": true}, "encoding": {"color": {"field": "s", "type": "nominal", "scale": {"domain": ["r", "g", "b"], "range": ["#e5252a", "#57d12f", "#1b3ff2"]}, "legend": null}, "order": {"field": "i", "type": "quantitative"}}},
  {"data": {"name": "tracks"}, "transform": [{"filter": "datum.p == 'i'"}, {"filter": "datum.s == 'r' && datum.i == 0"}], "mark": {"type": "point", "filled": true, "size": 25, "opacity": 1, "clip": true}, "encoding": {"color": {"field": "s", "type": "nominal", "scale": {"domain": ["r", "g", "b"], "range": ["#e5252a", "#57d12f", "#1b3ff2"]}, "legend": null}}},
  {"data": {"name": "labels"}, "transform": [{"filter": "datum.p == 'i' && datum.k == 't'"}], "mark": {"type": "text", "align": "left", "baseline": "alphabetic", "font": "Open Sans", "fontSize": 33, "color": "#000"}, "encoding": {"text": {"field": "t"}}},
  {"data": {"name": "labels"}, "transform": [{"filter": "datum.p == 'i' && datum.k != 't'"}], "mark": {"type": "text", "align": "left", "baseline": "alphabetic", "font": "Open Sans", "fontSize": 28, "color": "#000"}, "encoding": {"text": {"field": "t"}}}
 ]}
]},
{"width": 1229, "height": 72,
 "view": {"stroke": null},
 "data": {"name": "legend"},
 "encoding": {"x": {"field": "k", "type": "nominal", "bandPosition": 0, "scale": {"domain": ["r", "g", "b"], "paddingInner": 0, "paddingOuter": 0}, "axis": null}},
 "layer": [
  {"mark": {"type": "tick", "orient": "horizontal", "size": 150, "thickness": 3, "xOffset": -119, "yOffset": -9, "opacity": 1}, "encoding": {"color": {"field": "k", "type": "nominal", "scale": {"domain": ["r", "g", "b"], "range": ["#e02b24", "#34b84a", "#3560b0"]}, "legend": null}}},
  {"mark": {"type": "text", "align": "left", "baseline": "middle", "lineBreak": "|", "lineHeight": 32, "font": "Open Sans", "fontSize": 25, "xOffset": 173, "dy": -7, "color": "#000"}, "encoding": {"text": {"field": "t"}}}
 ]}
]
}
